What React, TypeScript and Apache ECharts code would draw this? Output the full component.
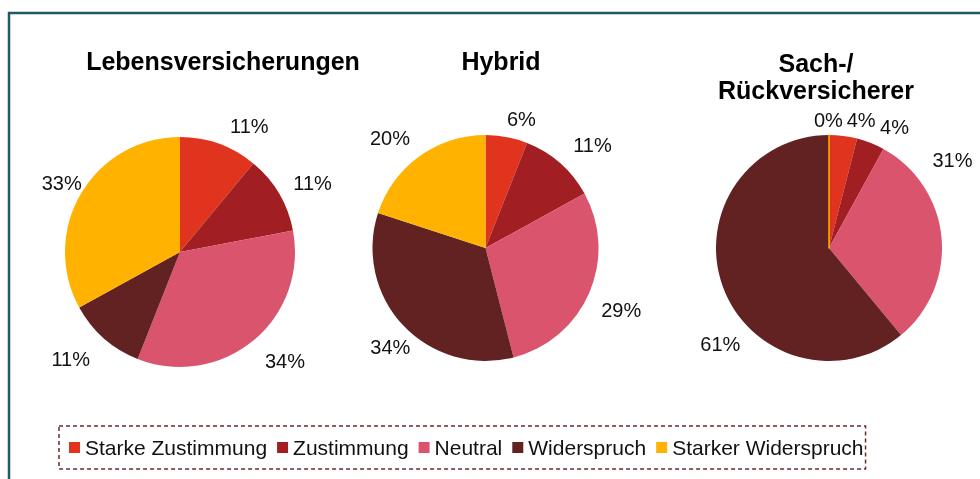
import React, { useEffect, useRef } from "react";
import * as echarts from "echarts";

const categories = ["Starke Zustimmung", "Zustimmung", "Neutral", "Widerspruch", "Starker Widerspruch"];
const colors = ["#E0341F", "#A11F22", "#D9546C", "#622221", "#FFB300"];
const titles = ["Lebensversicherungen", "Hybrid", "Sach-/\nRückversicherer"];
const lebenValues = [11, 11, 34, 11, 33];
const hybridValues = [6, 11, 29, 34, 20];
const sachValues = [4, 4, 31, 61, 0];

// layout / styling (not data)
const pieGeom = [
  { cx: 180, cy: 252, r: 115 },
  { cx: 485.5, cy: 248, r: 113 },
  { cx: 829, cy: 248, r: 113 },
];
const labelGap = 12;
// small offsets (px) applied to each data label, mimicking Excel's "best fit" placement
const labelNudge = [
  [[2, -7], [-1, -4], [-1, 11], [-1, 12], [16, -4]],
  [[-7, -6], [0, -9], [-4, 12], [21, 13], [3, -9]],
  [[-3, -4], [0, -5], [-26, -76], [34, 54], [-20, -3]],
];

export default function App() {
  const ref = useRef<HTMLDivElement>(null);
  useEffect(() => {
    document.body.style.margin = "0";
    const chart = echarts.init(ref.current!, null, { renderer: "svg" });
    const font = "'Liberation Sans', Arial, Helvetica, sans-serif";
    const seriesValues = [lebenValues, hybridValues, sachValues];

    const midAngles = seriesValues.map((vals) => {
      const total = vals.reduce((a, b) => a + b, 0);
      let cum = 0;
      return vals.map((v) => {
        const mid = ((cum + v / 2) / total) * 360;
        cum += v;
        return mid;
      });
    });

    const makeSeries = (idx: number) => {
      const g = pieGeom[idx];
      const values = seriesValues[idx];
      return {
        type: "pie",
        name: titles[idx],
        center: [g.cx, g.cy],
        radius: g.r,
        startAngle: 90,
        clockwise: true,
        avoidLabelOverlap: false,
        label: {
          show: true,
          position: "outside",
          formatter: "{c}%",
          fontFamily: font,
          fontSize: 20,
          color: "#111",
        },
        labelLine: { show: false },
        labelLayout: (p: any) => {
          const s = p.seriesIndex;
          const d = p.dataIndex;
          const geo = pieGeom[s];
          const a = (midAngles[s][d] * Math.PI) / 180;
          const ux = Math.sin(a);
          const uy = -Math.cos(a);
          const right = ux >= -1e-6;
          const px = geo.cx + (geo.r + labelGap) * ux;
          const py = geo.cy + (geo.r + labelGap) * uy;
          const n = labelNudge[s][d];
          return {
            x: px + (right ? 5 : -5) + n[0],
            y: py + n[1],
            align: right ? "left" : "right",
            verticalAlign: "middle",
          };
        },
        emphasis: { disabled: true },
        data: values.map((v, i) => ({
          name: categories[i],
          value: v,
          itemStyle: v === 0
            ? { color: colors[i], borderColor: colors[i], borderWidth: 1.5 }
            : { color: colors[i] },
        })),
      };
    };

    const titleStyle = { fontFamily: font, fontSize: 25, fontWeight: "bold", color: "#000", lineHeight: 27 };
    chart.setOption({
      animation: false,
      color: colors,
      title: [
        { text: titles[0], left: 218, top: 42, textAlign: "center", textStyle: titleStyle },
        { text: titles[1], left: 496, top: 42, textAlign: "center", textStyle: titleStyle },
        { text: titles[2], left: 811, top: 44, textAlign: "center", textStyle: titleStyle },
      ],
      legend: {
        data: categories,
        left: 59,
        top: 426,
        orient: "horizontal",
        itemWidth: 11,
        itemHeight: 11,
        itemGap: 10,
        padding: [11, 2, 11, 10],
        borderColor: "#6B2A2A",
        borderWidth: 1.5,
        borderType: [4, 3],
        icon: "rect",
        textStyle: { fontFamily: font, fontSize: 21, color: "#111" },
        selectedMode: false,
      },
      graphic: [
        { type: "rect", shape: { x: 9, y: 13, width: 1000, height: 500 }, style: { fill: "none", stroke: "#215968", lineWidth: 2.5 }, silent: true, z: -1 },
      ],
      series: [makeSeries(0), makeSeries(1), makeSeries(2)],
    });
    return () => chart.dispose();
  }, []);
  return <div ref={ref} style={{ position: "fixed", left: 0, top: 0, width: 980, height: 479 }} />;
}
